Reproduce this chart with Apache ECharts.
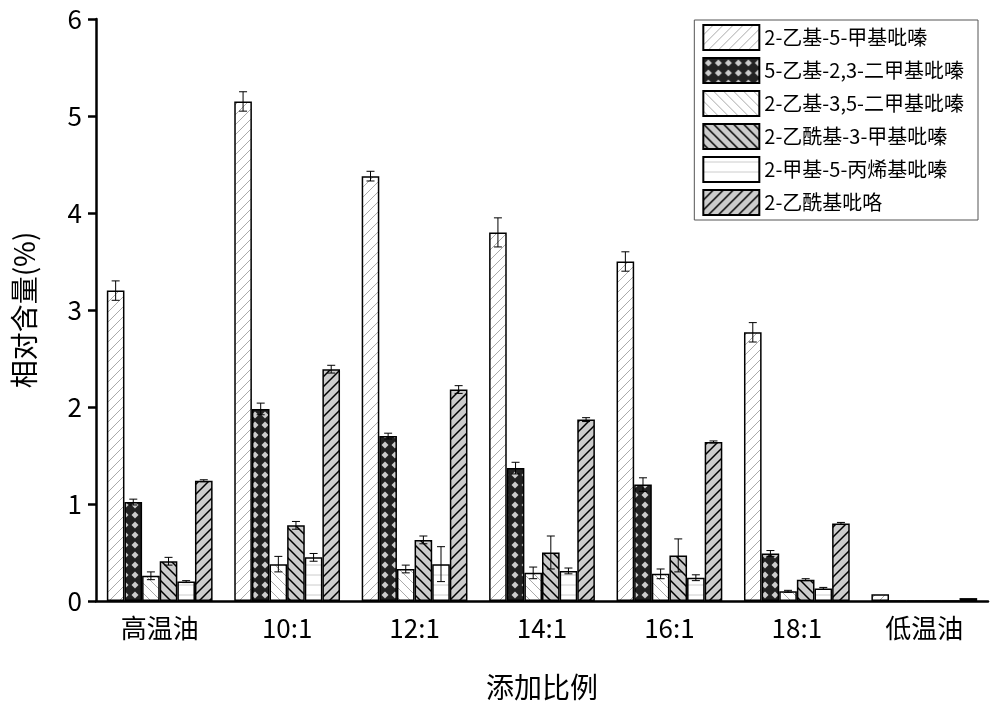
<!DOCTYPE html>
<html><head><meta charset="utf-8">
<script src="https://cdn.jsdelivr.net/npm/echarts@6/dist/echarts.min.js"></script>
<style>html,body{margin:0;background:#fff}#chart{width:1000px;height:711px}</style>
</head><body><div id="chart"></div>
<script>
var categories = ['高温油','10:1','12:1','14:1','16:1','18:1','低温油'];
var seriesNames = ['2-乙基-5-甲基吡嗪','5-乙基-2,3-二甲基吡嗪','2-乙基-3,5-二甲基吡嗪','2-乙酰基-3-甲基吡嗪','2-甲基-5-丙烯基吡嗪','2-乙酰基吡咯'];
var s1 = [3.2,5.15,4.38,3.8,3.5,2.77,0.07];
var s2 = [1.02,1.98,1.7,1.37,1.2,0.49,0];
var s3 = [0.26,0.38,0.33,0.29,0.28,0.1,0];
var s4 = [0.41,0.78,0.63,0.5,0.47,0.22,0];
var s5 = [0.2,0.45,0.38,0.31,0.24,0.13,0];
var s6 = [1.24,2.39,2.18,1.87,1.64,0.8,0.03];
var e1 = [0.1,0.1,0.05,0.15,0.1,0.1,0];
var e2 = [0.03,0.06,0.03,0.06,0.07,0.03,0];
var e3 = [0.04,0.08,0.04,0.06,0.05,0.01,0];
var e4 = [0.04,0.04,0.04,0.17,0.17,0.01,0];
var e5 = [0.01,0.04,0.18,0.03,0.03,0.01,0];
var e6 = [0.01,0.04,0.04,0.02,0.01,0.01,0];
var values = [s1,s2,s3,s4,s5,s6];
var errors = [e1,e2,e3,e4,e5,e6];

// hatch patterns
function pat(bg, draw){
  var c = document.createElement('canvas'); c.width = 10; c.height = 10;
  var g = c.getContext('2d'); g.fillStyle = bg; g.fillRect(0,0,10,10);
  draw(g); return {image: c, repeat: 'repeat'};
}
function line(g, col, w, pts){ g.strokeStyle = col; g.lineWidth = w; g.beginPath();
  for (var i=0;i<pts.length;i+=4){ g.moveTo(pts[i],pts[i+1]); g.lineTo(pts[i+2],pts[i+3]); } g.stroke(); }
var fills = [
  pat('#fff', function(g){ line(g,'#aaa',1,[0,10,10,0,-5,5,5,-5,5,15,15,5]); }),
  pat('#222', function(g){ g.fillStyle='#ccc'; g.beginPath(); g.moveTo(5,1.5);g.lineTo(8.5,5);g.lineTo(5,8.5);g.lineTo(1.5,5);g.closePath();g.fill(); }),
  pat('#fff', function(g){ line(g,'#aaa',1,[0,0,10,10,-5,5,5,15,5,-5,15,5]); }),
  pat('#ccc', function(g){ line(g,'#000',1.5,[0,0,10,10,-5,5,5,15,5,-5,15,5]); }),
  pat('#fff', function(g){ line(g,'#ccc',1,[0,5,10,5]); }),
  pat('#ccc', function(g){ line(g,'#000',1.5,[0,10,10,0,-5,5,5,-5,5,15,15,5]); })
];

var font = 'Noto Sans CJK SC';
var series = [];
values.forEach(function(v, i){
  series.push({name: seriesNames[i], type: 'bar', data: v, barGap: '0%', barCategoryGap: '17%',
    itemStyle: {color: fills[i], borderColor: '#000', borderWidth: 1.5}});
});
values.forEach(function(v, i){
  series.push({type: 'custom', silent: true, z: 5,
    data: v.map(function(y, k){ return [k, y, errors[i][k]]; }),
    renderItem: function(params, api){
      var k = api.value(0), y = api.value(1), e = api.value(2);
      if (!e) return null;
      var bw = api.size([1,0])[0] * 0.83 / 6;
      var x = api.coord([k, y])[0] + (i - 2.5) * bw;
      var top = api.coord([k, y + e])[1], bot = api.coord([k, y - e])[1];
      var st = {stroke: '#000', lineWidth: 1};
      return {type: 'group', children: [
        {type:'line', shape:{x1:x,y1:top,x2:x,y2:bot}, style:st},
        {type:'line', shape:{x1:x-4,y1:top,x2:x+4,y2:top}, style:st},
        {type:'line', shape:{x1:x-4,y1:bot,x2:x+4,y2:bot}, style:st}
      ]};
    }
  });
});

var chart = echarts.init(document.getElementById('chart'));
chart.setOption({
  animation: false,
  textStyle: {fontFamily: font},
  grid: {left: 96, right: 12, top: 19, bottom: 110},
  legend: {data: seriesNames, orient: 'vertical', right: 22, top: 20, icon: 'rect', itemWidth: 56, itemHeight: 25, itemGap: 6,
    borderColor: '#555', borderWidth: 1, padding: [4,14,4,8], borderRadius: 0,
    textStyle: {fontSize: 20, color: '#000', fontFamily: font}},
  xAxis: {type: 'category', data: categories, name: '添加比例', nameLocation: 'middle', nameGap: 72,
    nameTextStyle: {fontSize: 28, color: '#000'},
    axisLine: {lineStyle: {color: '#000', width: 2.5}},
    axisTick: {alignWithLabel: true, length: 10, lineStyle: {width: 2.5}},
    axisLabel: {fontSize: 26, color: '#000', margin: 14}},
  yAxis: {type: 'value', min: 0, max: 6, interval: 1, name: '相对含量(%)', nameLocation: 'middle', nameGap: 58,
    nameTextStyle: {fontSize: 28, color: '#000'},
    axisLine: {show: true, lineStyle: {color: '#000', width: 2.5}},
    axisTick: {show: true, length: 8, lineStyle: {width: 2.5}},
    splitLine: {show: false},
    axisLabel: {fontSize: 26, color: '#000', margin: 14}},
  series: series
});
</script></body></html>
